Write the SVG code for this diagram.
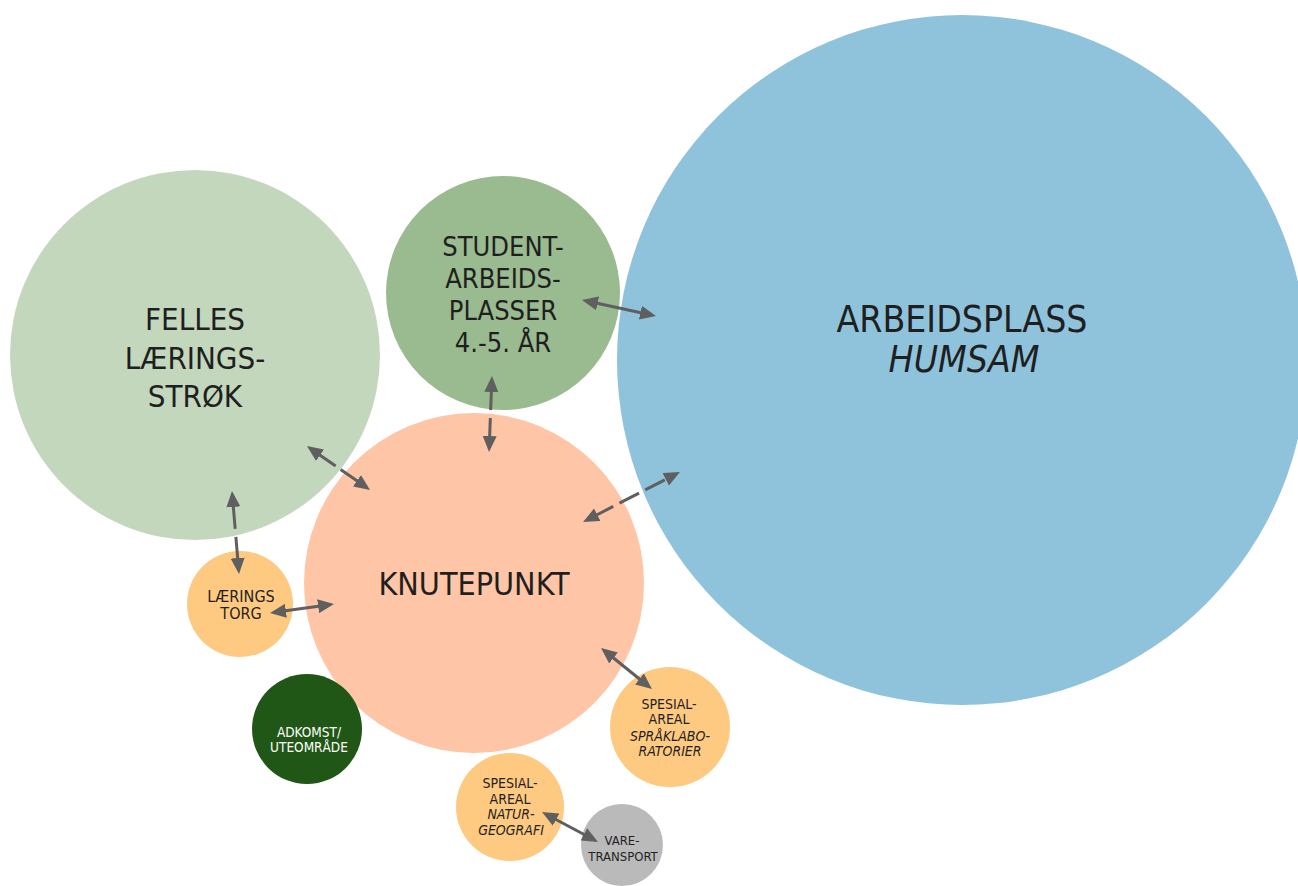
<svg xmlns="http://www.w3.org/2000/svg" width="1298" height="886" viewBox="0 0 1298 886">
<defs>
<style>
.t{font-family:"DejaVu Sans Condensed","DejaVu Sans",sans-serif;fill:#1f1f1f;text-anchor:middle}
.i{font-style:italic}
.w{fill:#ffffff}
.c{stroke:#5f5f5f;stroke-width:3;fill:none;marker-start:url(#ah);marker-end:url(#ah)}
</style>
<marker id="ah" markerUnits="userSpaceOnUse" markerWidth="16" markerHeight="14" refX="4" refY="7" orient="auto-start-reverse" viewBox="0 0 16 14">
<path d="M0,0 L16,7 L0,14 z" fill="#5f5f5f"/>
</marker>
</defs>
<rect width="1298" height="886" fill="#ffffff"/>
<g id="arbeidsplass">
<circle cx="962" cy="360" r="345" fill="#8fc3dc"/>
<text class="t" x="962" y="332" font-size="37">ARBEIDSPLASS</text>
<text class="t i" x="964" y="372" font-size="37">HUMSAM</text>
</g>
<g id="felles">
<circle cx="195" cy="355" r="185" fill="#c3d7bd"/>
<text class="t" x="195" y="330" font-size="31">FELLES</text>
<text class="t" x="195" y="369" font-size="31">LÆRINGS-</text>
<text class="t" x="195" y="407" font-size="31">STRØK</text>
</g>
<g id="student">
<circle cx="503" cy="293" r="117" fill="#9aba8f"/>
<text class="t" x="503" y="256" font-size="27">STUDENT-</text>
<text class="t" x="503" y="288" font-size="27">ARBEIDS-</text>
<text class="t" x="503" y="320" font-size="27">PLASSER</text>
<text class="t" x="503" y="352" font-size="27">4.-5. ÅR</text>
</g>
<g id="knutepunkt">
<circle cx="474" cy="583" r="170" fill="#fec5a6"/>
<text class="t" x="474" y="595" font-size="32">KNUTEPUNKT</text>
</g>
<g id="laeringstorg">
<circle cx="240" cy="604" r="53" fill="#fec981"/>
<text class="t" x="241" y="602" font-size="16">LÆRINGS</text>
<text class="t" x="241" y="619" font-size="16">TORG</text>
</g>
<g id="adkomst">
<circle cx="307" cy="729" r="55" fill="#215716"/>
<text class="t w" x="309" y="737" font-size="13.5">ADKOMST/</text>
<text class="t w" x="309" y="752" font-size="13.5">UTEOMRÅDE</text>
</g>
<g id="spesial-sprak">
<circle cx="670" cy="727" r="60" fill="#fec981"/>
<text class="t" x="669" y="709" font-size="14">SPESIAL-</text>
<text class="t" x="669" y="724" font-size="14">AREAL</text>
<text class="t i" x="670" y="741" font-size="14">SPRÅKLABO-</text>
<text class="t i" x="670" y="756" font-size="14">RATORIER</text>
</g>
<g id="spesial-natur">
<circle cx="510" cy="807" r="54" fill="#fec981"/>
<text class="t" x="510" y="788" font-size="14">SPESIAL-</text>
<text class="t" x="510" y="804" font-size="14">AREAL</text>
<text class="t i" x="511" y="819" font-size="14">NATUR-</text>
<text class="t i" x="511" y="835" font-size="14">GEOGRAFI</text>
</g>
<g id="varetransport">
<circle cx="622" cy="845" r="41" fill="#bababa"/>
<text class="t" x="622" y="845" font-size="13">VARE-</text>
<text class="t" x="623" y="861" font-size="13">TRANSPORT</text>
</g>
<g id="connectors">
<line class="c" x1="593.7" y1="302.5" x2="644.3" y2="313.5"/>
<line class="c" x1="491.5" y1="388" x2="489.5" y2="440" stroke-dasharray="22 8"/>
<line class="c" x1="316.8" y1="452.9" x2="360.2" y2="483.1" stroke-dasharray="23 6"/>
<line class="c" x1="593.7" y1="516.5" x2="669.3" y2="477.5" stroke-dasharray="22 7"/>
<line class="c" x1="233" y1="503" x2="238" y2="562" stroke-dasharray="26 8"/>
<line class="c" x1="281.9" y1="611.3" x2="322.1" y2="605.7"/>
<line class="c" x1="610.4" y1="655.5" x2="642.6" y2="681.5"/>
<line class="c" x1="552.6" y1="817.7" x2="587.4" y2="836.3"/>
</g>
</svg>
